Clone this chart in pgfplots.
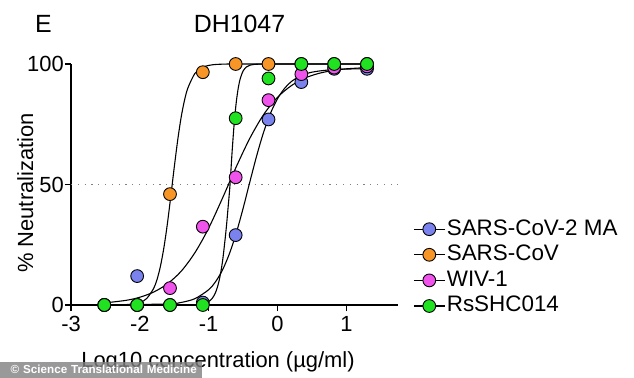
\documentclass[border=0pt]{standalone}
\usepackage{pgfplots}
\pgfplotsset{compat=1.18}
\usepackage{fontspec}
\setmainfont{Liberation Sans}
\definecolor{cblue}{RGB}{122,130,238}
\definecolor{corange}{RGB}{247,150,38}
\definecolor{cmag}{RGB}{240,82,236}
\definecolor{cgreen}{RGB}{32,226,32}
\begin{document}
\begin{tikzpicture}
\path[use as bounding box] (0,0) rectangle (634bp,378bp);
\begin{axis}[
 at={(71bp,73bp)}, anchor=south west,
 scale only axis, width=327bp, height=241bp,
 xmin=-3, xmax=1.75, ymin=0, ymax=100,
 axis lines=left, axis line style={-, line width=1.2bp},
 clip=false,
 xtick={-3,-2,-1,0,1}, ytick={0,50,100},
 tick align=outside, major tick length=6bp,
 tick style={black, line width=1.2bp},
 /pgf/number format/assume math mode=true,
 tick label style={font=\fontsize{22}{26}\selectfont},
 xticklabel style={inner sep=1bp, yshift=-4bp},
 yticklabel style={inner sep=1bp},
 legend style={at={(1.046,0.361)}, anchor=north west, draw=none, fill=none,
   font=\fontsize{22.5}{26}\selectfont, row sep=3.6bp, inner sep=0pt,
   nodes={inner sep=1bp, text height=16bp, text depth=4bp},
   /tikz/every odd column/.append style={column sep=0.5bp}},
 legend cell align=left,
 legend image code/.code={\draw[mark repeat=2,mark phase=2,#1] plot coordinates {(0bp,0bp) (15.5bp,0bp) (31bp,0bp)};},
 mymark/.style={only marks, mark=*, mark size=6.4bp, mark options={draw=black, line width=0.9bp, fill=#1}},
]
% reference line at 50 %
\addplot[forget plot, gray, line width=1.1bp, dash pattern=on 1.2bp off 5.6bp] coordinates {(-3,50) (1.75,50)};
% fitted curves
\addplot[forget plot, black, line width=1.1bp, smooth] coordinates {
(-2.52,0.0) (-2.2,0.15) (-2.0,1.05) (-1.9,2.72) (-1.8,6.85) (-1.75,10.6) (-1.7,16.2) (-1.65,23.9) (-1.6,33.7) (-1.55,45.2) (-1.5,57.2) (-1.45,68.4) (-1.4,77.9) (-1.35,85.1) (-1.3,90.2) (-1.2,96.1) (-1.1,98.5) (-1.0,99.4) (-0.9,99.8) (-0.7,100) (-0.4,100) (1.3,100)};
\addplot[forget plot, black, line width=1.1bp, smooth] coordinates {
(-2.52,0) (-1.3,0.02) (-1.1,0.35) (-1.0,1.36) (-0.95,2.68) (-0.9,5.21) (-0.85,9.88) (-0.8,17.9) (-0.75,30.4) (-0.72,39.8) (-0.69,50) (-0.66,63.5) (-0.63,75.1) (-0.6,84.0) (-0.57,90.1) (-0.54,94.1) (-0.5,97.1) (-0.45,98.8) (-0.4,99.5) (-0.3,99.9) (0.0,100) (1.3,100)};
\addplot[forget plot, black, line width=1.1bp, smooth] coordinates {
(-2.52,0.84) (-2.2,1.93) (-2.0,3.23) (-1.8,5.36) (-1.6,8.78) (-1.4,14.0) (-1.2,21.7) (-1.0,31.9) (-0.8,44.3) (-0.6,57.3) (-0.4,69.3) (-0.2,79.1) (0.0,86.2) (0.2,91.0) (0.4,94.2) (0.6,96.1) (0.8,97.3) (1.0,98.0) (1.3,98.5)};
\addplot[forget plot, black, line width=1.1bp, smooth] coordinates {
(-2.52,0) (-1.6,0.43) (-1.4,1.06) (-1.2,2.63) (-1.0,6.34) (-0.9,9.68) (-0.8,14.5) (-0.7,21.2) (-0.6,29.8) (-0.5,40.1) (-0.4,51.3) (-0.3,62.2) (-0.2,71.9) (-0.1,79.7) (0.0,85.6) (0.1,89.8) (0.2,92.7) (0.35,95.3) (0.5,96.6) (0.7,97.4) (1.0,97.9) (1.3,98)};
% data points
\addplot[forget plot, mymark=cblue] coordinates {
(-2.516,0) (-2.039,12) (-1.562,0) (-1.085,1) (-0.608,29) (-0.131,77) (0.346,92.5) (0.823,98) (1.3,98)};
\addplot[forget plot, mymark=corange] coordinates {
(-2.516,0) (-2.039,0) (-1.562,46) (-1.085,96.6) (-0.608,100) (-0.131,100) (0.346,100) (0.823,100) (1.3,100)};
\addplot[forget plot, mymark=cmag] coordinates {
(-2.516,0) (-2.039,0) (-1.562,7) (-1.085,32.5) (-0.608,53) (-0.131,85) (0.346,95.8) (0.823,98.5) (1.3,99)};
\addplot[forget plot, mymark=cgreen] coordinates {
(-2.516,0) (-2.039,0) (-1.562,0) (-1.085,0) (-0.608,77.5) (-0.131,94) (0.346,100) (0.823,100) (1.3,100)};
% legend
\addlegendimage{black, line width=1.1bp, mark=*, mark size=6.4bp, mark options={draw=black, line width=0.9bp, fill=cblue}}
\addlegendentry{SARS-CoV-2 MA}
\addlegendimage{black, line width=1.1bp, mark=*, mark size=6.4bp, mark options={draw=black, line width=0.9bp, fill=corange}}
\addlegendentry{SARS-CoV}
\addlegendimage{black, line width=1.1bp, mark=*, mark size=6.4bp, mark options={draw=black, line width=0.9bp, fill=cmag}}
\addlegendentry{WIV-1}
\addlegendimage{black, line width=1.1bp, mark=*, mark size=6.4bp, mark options={draw=black, line width=0.9bp, fill=cgreen}}
\addlegendentry{RsSHC014}
\end{axis}
\node[font=\fontsize{25}{30}\selectfont] at (43.5bp,354bp) {E};
\node[font=\fontsize{25}{30}\selectfont] at (239.5bp,354bp) {DH1047};
\node[font=\fontsize{22}{26}\selectfont, anchor=base] at (218bp,11bp) {Log10 concentration (µg/ml)};
\node[font=\fontsize{22}{26}\selectfont, anchor=base, rotate=90] at (33bp,185bp) {\% Neutralization};
\node[anchor=south west, fill=black!50, fill opacity=0.8, text opacity=1, text=white, font=\fontsize{11.7}{13}\selectfont\bfseries, minimum width=202bp, minimum height=16bp, inner sep=0pt, text width=195bp, align=left] at (0,0) {\hspace*{7bp}© Science Translational Medicine};
\end{tikzpicture}
\end{document}
